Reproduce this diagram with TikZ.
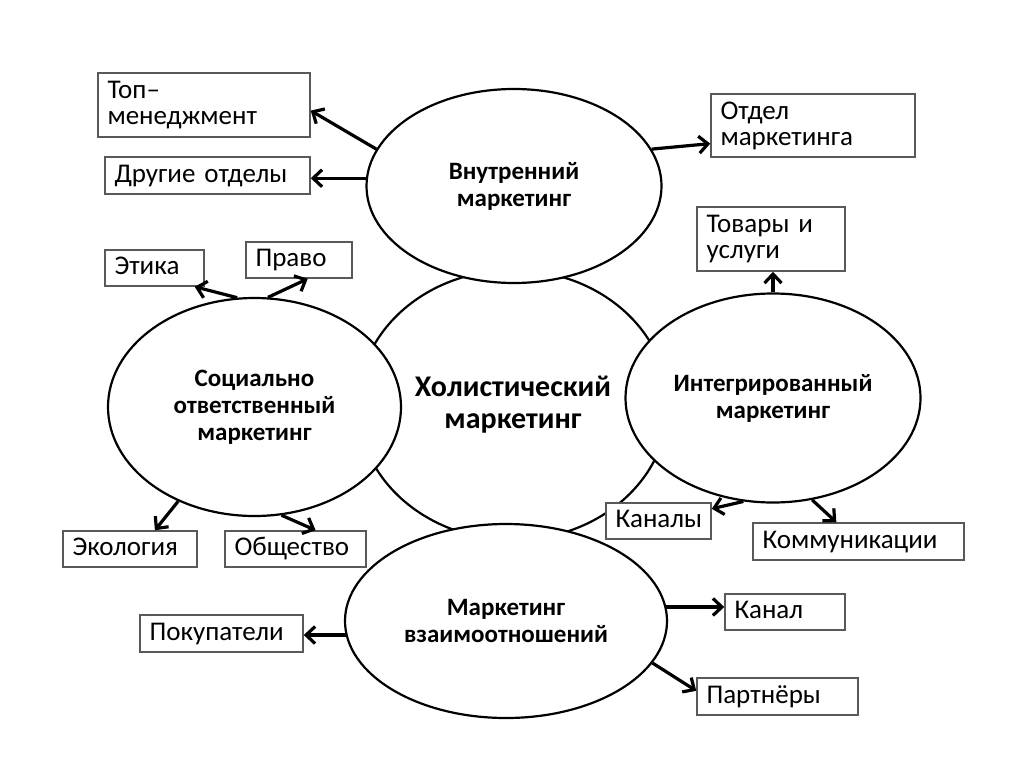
\documentclass[tikz,border=0pt]{standalone}
\usepackage{fontspec}
\setmainfont{Carlito}
\usetikzlibrary{shapes.geometric, arrows.meta}

\begin{document}
\begin{tikzpicture}[x=1pt, y=-1pt,
        oval/.style={ellipse, draw, line width=2.2pt, fill=white, inner sep=0pt, align=center,
            font=\bfseries\fontsize{25}{27}\selectfont},
        box/.style={rectangle, draw=black!65, line width=1.5pt, fill=white, inner xsep=9.5pt,
            inner ysep=0pt, align=left, font=\fontsize{27}{26}\selectfont},
        oneline/.style={box, text height=19pt, text depth=6pt},
        arr/.style={line width=3.2pt, -{Straight Barb[length=9pt, width=17pt]}}
    ]
    \useasboundingbox (0,0) rectangle (1024,768);
    % ovals
    \node[oval, minimum width=310pt, minimum height=270pt, font=\bfseries\fontsize{30}{32}\selectfont]
        (hol) at (513,405) {Холистический\\маркетинг};
    \node[oval, minimum width=295pt, minimum height=194pt] (vnut) at (514,186) {Внутренний\\маркетинг};
    \node[oval, minimum width=293pt, minimum height=218pt] (soc) at (254.5,407) {Социально\\ответственный\\маркетинг};
    \node[oval, minimum width=295pt, minimum height=209pt] (integ) at (773,398) {Интегрированный\\маркетинг};
    \node[oval, minimum width=322pt, minimum height=194pt] (vzaim) at (506,621) {Маркетинг\\взаимоотношений};
    % boxes
    \node[box, text width=193pt, minimum height=64pt] (top) at (204,105) {Топ–\\менеджмент};
    \node[oneline, text width=186pt, minimum height=37pt] (drug) at (207.5,175.5) {Другие отделы};
    \node[box, text width=185pt, minimum height=63pt] (otdel) at (813,125.5) {Отдел\\маркетинга};
    \node[box, text width=129pt, minimum height=64pt] (tovary) at (771,239) {Товары и\\услуги};
    \node[oneline, text width=80pt, minimum height=36pt] (etika) at (154.5,268) {Этика};
    \node[oneline, text width=87pt, minimum height=36pt] (pravo) at (299,260) {Право};
    \node[oneline, text width=115pt, minimum height=36pt] (ekol) at (130,549) {Экология};
    \node[oneline, text width=122pt, minimum height=36pt] (obsch) at (295.5,549) {Общество};
    \node[oneline, text width=86pt, minimum height=36pt] (kanaly) at (658.5,521) {Каналы};
    \node[oneline, text width=192pt, minimum height=37pt] (komm) at (858.5,541.5) {Коммуникации};
    \node[oneline, text width=101pt, minimum height=36pt] (kanal) at (785,612) {Канал};
    \node[oneline, text width=144pt, minimum height=37pt] (pokup) at (221.5,633.5) {Покупатели};
    \node[oneline, text width=142pt, minimum height=37pt] (partn) at (777.5,696.5) {Партнёры};
    % arrows
    \draw[arr] (vnut.165) -- (top.-3);
    \draw[arr] (vnut.177) -- (drug.east |- vnut.177);
    \draw[arr] (vnut.15) -- (otdel.190);
    \draw[arr] (integ.north) -- (tovary.south -| integ.north);
    \draw[arr] (integ.254) -- (kanaly);
    \draw[arr] (integ.291) -- (komm.139);
    \draw[arr] (soc.99) -- (etika.-25);
    \draw[arr] (soc.83) -- (pravo.-65);
    \draw[arr] (soc.231) -- (ekol.37);
    \draw[arr] (soc.284) -- (obsch.43);
    \draw[arr] (vzaim.5) -- (kanal.west |- vzaim.5);
    \draw[arr] (vzaim.-16) -- (partn.176);
    \draw[arr] (vzaim.185) -- (pokup.east |- vzaim.185);
\end{tikzpicture}
\end{document}
